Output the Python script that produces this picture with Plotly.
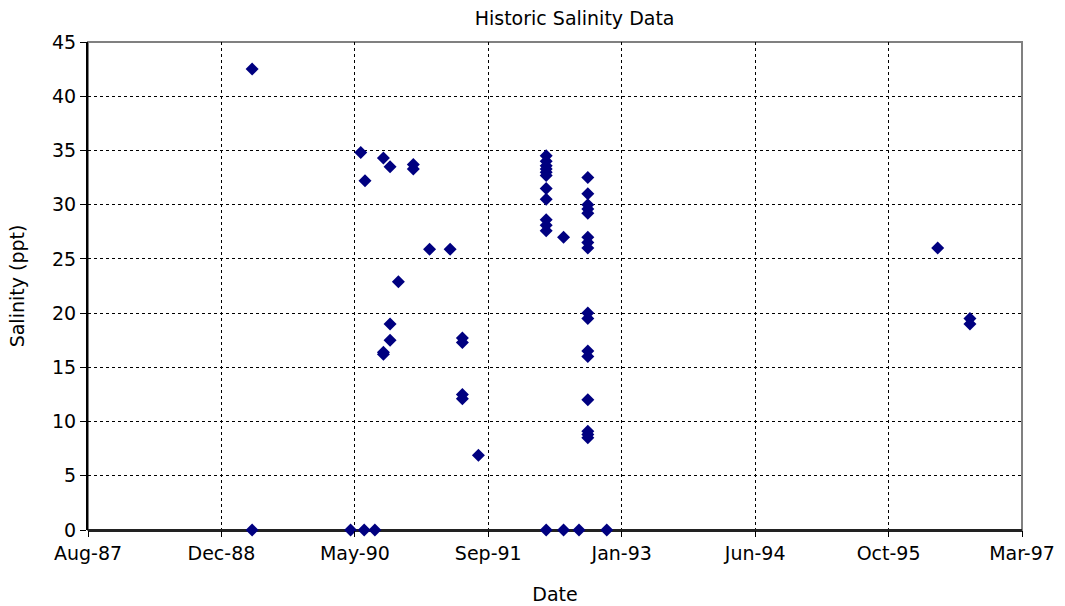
import plotly.graph_objects as go

# Data (one line per sampling date)
dates = (
    ["1989-04-17"] * 2
    + ["1990-04-21"]
    + ["1990-05-29"]
    + ["1990-06-11"]
    + ["1990-06-14"]
    + ["1990-07-21"]
    + ["1990-08-22"] * 3
    + ["1990-09-16"] * 3
    + ["1990-10-17"]
    + ["1990-12-12"] * 2
    + ["1991-02-11"]
    + ["1991-04-29"]
    + ["1991-06-14"] * 4
    + ["1991-08-13"]
    + ["1992-04-23"] * 12
    + ["1992-06-27"] * 2
    + ["1992-08-24"]
    + ["1992-09-26"] * 16
    + ["1992-12-06"]
    + ["1996-04-29"]
    + ["1996-08-28"] * 2
)
salinity = (
    [42.5, 0]
    + [0]
    + [34.8]
    + [0]
    + [32.2]
    + [0]
    + [34.3, 16.4, 16.2]
    + [33.5, 19.0, 17.5]
    + [22.9]
    + [33.7, 33.3]
    + [25.9]
    + [25.9]
    + [17.7, 17.3, 12.5, 12.1]
    + [6.9]
    + [34.5, 34.0, 33.6, 33.3, 33.0, 32.7, 31.5, 30.5, 28.6, 28.1, 27.6, 0]
    + [27.0, 0]
    + [0]
    + [32.5, 31.0, 30.0, 29.6, 29.2, 27.0, 26.5, 26.0,
       20.0, 19.5, 16.5, 16.0, 12.0, 9.1, 8.8, 8.5]
    + [0]
    + [26.0]
    + [19.5, 19.0]
)

title_text = "Historic Salinity Data"
x_title = "Date"
y_title = "Salinity (ppt)"

font_family = "DejaVu Sans, Verdana, sans-serif"
fsize = 19

fig = go.Figure()
fig.add_trace(go.Scatter(
    x=dates, y=salinity, mode="markers",
    marker=dict(symbol="diamond", size=10, color="#000080",
                line=dict(width=0)),
    cliponaxis=False, showlegend=False,
))

# gray border of the plot area (top / right)
fig.add_shape(type="rect", xref="paper", yref="paper", x0=0, x1=1, y0=0, y1=1,
              line=dict(color="#808080", width=2), layer="below")

fig.update_layout(
    width=1065, height=606,
    margin=dict(l=88, r=43, t=42, b=76, autoexpand=False),
    paper_bgcolor="white", plot_bgcolor="white",
    font=dict(family=font_family, size=fsize, color="black"),
    title=dict(text=title_text, x=0.521, xref="paper", xanchor="center",
               y=1 - 18 / 606, yref="container", yanchor="middle",
               font=dict(size=fsize, family=font_family, color="black")),
    xaxis=dict(
        type="date",
        range=["1987-08-11", "1997-03-11"],
        tick0="1987-08-11", dtick=500 * 86400000,
        tickformat="%b-%y",
        showgrid=True, gridcolor="black", griddash="dot", gridwidth=1,
        ticks="outside", ticklen=6, tickcolor="black", tickwidth=1,
        showline=False, zeroline=False, automargin=False,
        title=dict(text=x_title, standoff=24, font=dict(size=fsize)),
        tickfont=dict(size=fsize),
    ),
    yaxis=dict(
        range=[0, 45], dtick=5, tick0=0,
        showgrid=True, gridcolor="black", griddash="dot", gridwidth=1,
        ticks="outside", ticklen=6, tickcolor="black", tickwidth=1,
        showline=True, linecolor="black", linewidth=2,
        zeroline=True, zerolinecolor="#222222", zerolinewidth=3,
        automargin=False,
        title=dict(text=y_title, standoff=22, font=dict(size=fsize)),
        tickfont=dict(size=fsize),
    ),
)

fig.write_html("out.html")
